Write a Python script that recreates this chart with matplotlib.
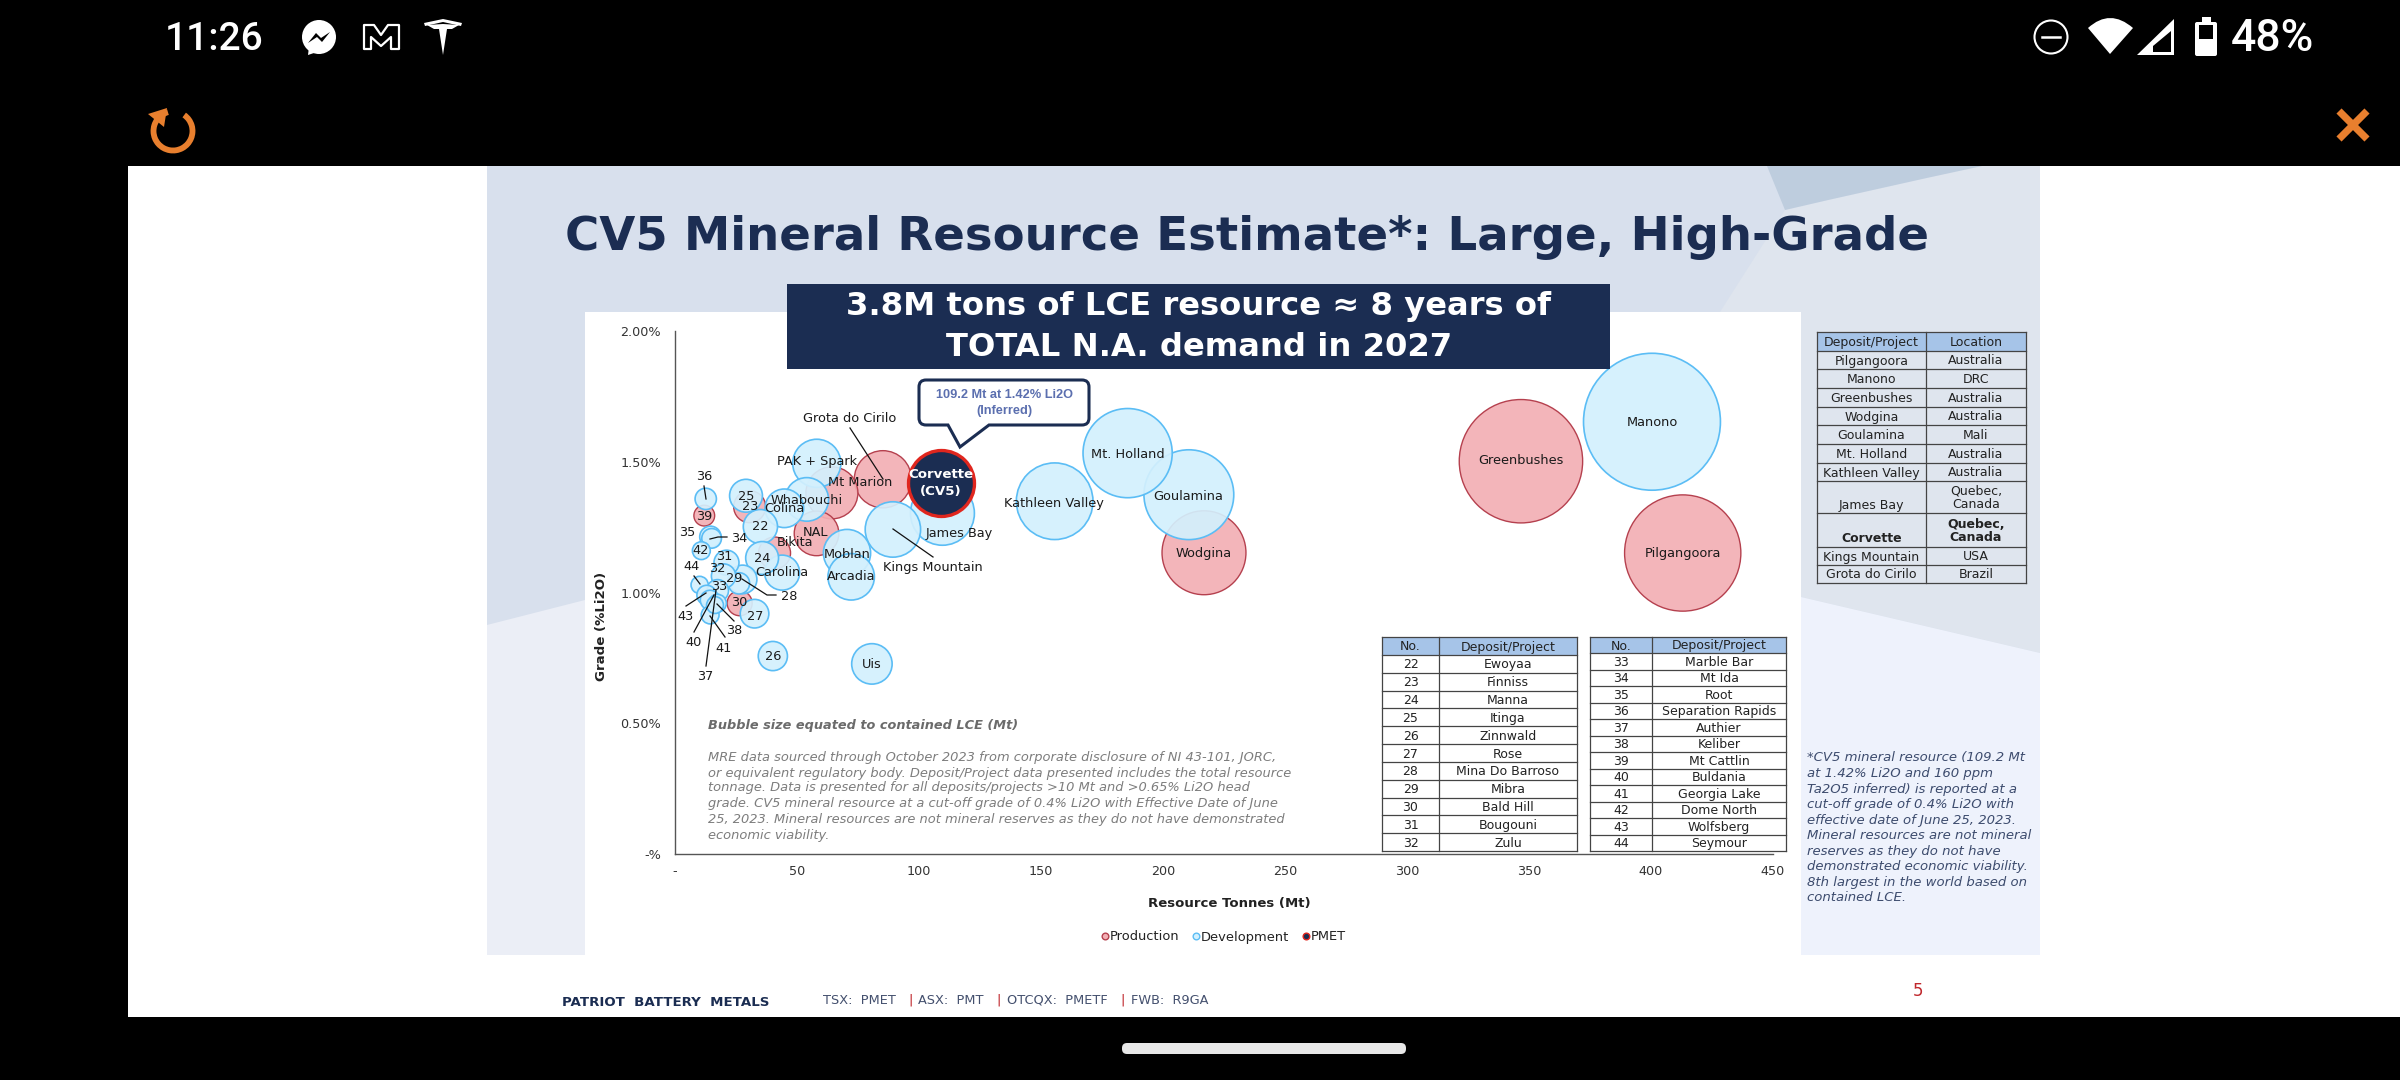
import matplotlib
matplotlib.use("Agg")
import matplotlib.pyplot as plt
from matplotlib.patches import Rectangle, Polygon, Circle, FancyBboxPatch, PathPatch, Arc
from matplotlib.path import Path
from matplotlib.lines import Line2D

# ---------- data ----------
prod_x = [413.0, 346.7, 216.8, 85.2, 64.3, 58.0, 40.8, 30.6, 26.5, 12.0]
prod_y = [1.151, 1.502, 1.152, 1.433, 1.381, 1.226, 1.151, 1.328, 0.959, 1.294]
prod_lce = [11.9, 13.4, 6.2, 2.88, 2.38, 1.75, 0.90, 0.90, 0.55, 0.38]

dev_x = [400.4, 210.6, 185.5, 155.6, 109.6, 89.3, 58.1, 54.0, 70.5, 72.2, 44.8, 80.7,
         43.9, 35.0, 29.1, 35.7, 40.1, 32.6, 27.7, 26.2, 21.1, 19.9, 17.4, 14.5, 15.0,
         12.6, 10.8, 10.1, 13.0, 14.4, 17.4, 14.4, 16.4]
dev_y = [1.653, 1.374, 1.533, 1.349, 1.303, 1.241, 1.494, 1.356, 1.151, 1.060, 1.322, 0.727,
         1.076, 1.252, 1.370, 1.132, 0.757, 0.919, 1.050, 1.035, 1.114, 1.063, 1.007, 1.213, 1.207,
         1.358, 1.160, 1.029, 0.990, 0.971, 0.959, 0.914, 0.952]
dev_lce = [16.5, 7.1, 7.0, 5.17, 3.6, 2.7, 2.04, 1.67, 1.96, 1.90, 1.31, 1.44,
           1.08, 1.03, 0.95, 0.95, 0.75, 0.72, 0.72, 0.40, 0.55, 0.52, 0.43, 0.40, 0.34,
           0.40, 0.28, 0.26, 0.34, 0.34, 0.28, 0.28, 0.25]

pmet_x = [109.2]
pmet_y = [1.42]
pmet_lce = [3.83]

y_ticks = [0, 0.5, 1.0, 1.5, 2.0]
y_tick_labels = ["-%", "0.50%", "1.00%", "1.50%", "2.00%"]
x_ticks = [0, 50, 100, 150, 200, 250, 300, 350, 400, 450]
x_tick_labels = ["-", "50", "100", "150", "200", "250", "300", "350", "400", "450"]

bubble_labels = [("Grota do Cirilo", 850, 419), ("PAK + Spark", 817, 461), ("Mt Marion", 860, 482),
                 ("Whabouchi", 807, 500), ("Colina", 784, 509), ("James Bay", 959, 533),
                 ("NAL", 816, 532), ("Bikita", 795, 543), ("Moblan", 847, 555),
                 ("Kings Mountain", 933, 568), ("Carolina", 782, 573), ("Arcadia", 851, 577),
                 ("Uis", 872, 665), ("Kathleen Valley", 1054, 503), ("Mt. Holland", 1128, 454),
                 ("Goulamina", 1188, 496), ("Wodgina", 1204, 554), ("Greenbushes", 1521, 461),
                 ("Manono", 1652, 422), ("Pilgangoora", 1683, 554),
                 ("36", 704, 477), ("39", 704, 516), ("25", 746, 497), ("23", 750, 507),
                 ("22", 760, 527), ("35", 687, 532), ("34", 739, 538), ("42", 701, 551),
                 ("31", 724, 556), ("24", 762, 559), ("44", 692, 566), ("32", 717, 569),
                 ("29", 734, 579), ("33", 719, 587), ("28", 789, 596), ("30", 739, 603),
                 ("43", 686, 617), ("27", 755, 617), ("38", 734, 631), ("40", 694, 642),
                 ("41", 724, 649), ("26", 773, 657), ("37", 705, 677)]

leaders = [[(850, 428), (883, 479)], [(893, 529), (933, 557)], [(704, 486), (706, 499)],
           [(710, 539), (718, 537), (727, 537)], [(694, 576), (700, 584)],
           [(742, 579), (767, 595), (776, 595)], [(686, 606), (706, 593)], [(694, 632), (714, 595)],
           [(706, 666), (716, 590)], [(725, 637), (710, 616)], [(734, 621), (717, 604)]]

table_a_no = ["22", "23", "24", "25", "26", "27", "28", "29", "30", "31", "32"]
table_a_name = ["Ewoyaa", "Finniss", "Manna", "Itinga", "Zinnwald", "Rose", "Mina Do Barroso",
                "Mibra", "Bald Hill", "Bougouni", "Zulu"]
table_b_no = ["33", "34", "35", "36", "37", "38", "39", "40", "41", "42", "43", "44"]
table_b_name = ["Marble Bar", "Mt Ida", "Root", "Separation Rapids", "Authier", "Keliber", "Mt Cattlin",
                "Buldania", "Georgia Lake", "Dome North", "Wolfsberg", "Seymour"]
table_c_name = ["Pilgangoora", "Manono", "Greenbushes", "Wodgina", "Goulamina", "Mt. Holland",
                "Kathleen Valley", "James Bay", "Corvette", "Kings Mountain", "Grota do Cirilo"]
table_c_loc = ["Australia", "DRC", "Australia", "Australia", "Mali", "Australia", "Australia",
               "Quebec,\nCanada", "Quebec,\nCanada", "USA", "Brazil"]

note_lines = ["MRE data sourced through October 2023 from corporate disclosure of NI 43-101, JORC,",
              "or equivalent regulatory body. Deposit/Project data presented includes the total resource",
              "tonnage. Data is presented for all deposits/projects >10 Mt and >0.65% Li2O head",
              "grade. CV5 mineral resource at a cut-off grade of 0.4% Li2O with Effective Date of June",
              "25, 2023. Mineral resources are not mineral reserves as they do not have demonstrated",
              "economic viability."]
foot_lines = ["*CV5 mineral resource (109.2 Mt", "at 1.42% Li2O and 160 ppm", "Ta2O5 inferred) is reported at a",
              "cut-off grade of 0.4% Li2O with", "effective date of June 25, 2023.", "Mineral resources are not mineral",
              "reserves as they do not have", "demonstrated economic viability.", "8th largest in the world based on",
              "contained LCE."]

# ---------- styles ----------
NAVY = "#1B2D52"
ORANGE = "#E87F2E"
PROD_F, PROD_E = (0.953, 0.686, 0.706, 0.92), "#B5404E"
DEV_F, DEV_E = (0.827, 0.941, 0.992, 0.92), "#5BBDF5"
S_PER_MT = 589.0
TXT = "#222222"

W, H = 2400, 1080
fig = plt.figure(figsize=(24, 10.8), dpi=100, facecolor="black")


def overlay(z):
    a = fig.add_axes([0, 0, 1, 1], zorder=z)
    a.set_xlim(0, W)
    a.set_ylim(H, 0)
    a.axis("off")
    a.patch.set_alpha(0)
    return a


bg = overlay(0)
fg = overlay(2)

# ---------- slide background ----------
bg.add_patch(Rectangle((128, 166), W - 128, 851, fc="white", ec="none"))
bg.add_patch(Rectangle((487, 166), 1553, 789, fc="#D8E0ED", ec="none"))
bg.add_patch(PathPatch(Path([(1982, 166), (1870, 190), (1785, 210), (1720, 312), (1801, 312), (1801, 597),
                             (2040, 653), (2040, 166), (1982, 166)],
                            [Path.MOVETO, Path.CURVE3, Path.CURVE3, Path.LINETO, Path.LINETO, Path.LINETO,
                             Path.LINETO, Path.LINETO, Path.CLOSEPOLY]), fc="#DFE5EE", ec="none"))
bg.add_patch(PathPatch(Path([(1767, 166), (1982, 166), (1870, 190), (1785, 210), (1767, 166)],
                            [Path.MOVETO, Path.LINETO, Path.CURVE3, Path.CURVE3, Path.CLOSEPOLY]),
                       fc="#BECDDE", ec="none"))
bg.add_patch(Polygon([(1801, 597), (2040, 653), (2040, 955), (1801, 955)], fc="#EEF2FC", ec="none"))
bg.add_patch(Polygon([(487, 625), (585, 600), (585, 955), (487, 955)], fc="#EBEEF6", ec="none"))
bg.add_patch(Rectangle((585, 312), 1216, 644, fc="white", ec="none"))

# ---------- chart ----------
ax = fig.add_axes([675 / W, (H - 854) / H, 1098 / W, 523 / H], zorder=1)
ax.patch.set_alpha(0)
ax.set_xlim(0, 450)
ax.set_ylim(0, 2)
for s in ("top", "right"):
    ax.spines[s].set_visible(False)
for s in ("left", "bottom"):
    ax.spines[s].set_color("#555555")
    ax.spines[s].set_linewidth(1.0)
ax.set_yticks(y_ticks, y_tick_labels)
ax.set_xticks(x_ticks, x_tick_labels)
ax.tick_params(axis="both", length=0, labelsize=9.2, labelcolor="#333333")
ax.tick_params(axis="y", pad=10)
ax.tick_params(axis="x", pad=8)
ax.set_xlabel("Resource Tonnes (Mt)", fontsize=9.5, fontweight="bold", color="#222222")
ax.set_ylabel("Grade (%Li2O)", fontsize=9.6, fontweight="bold", color="#222222")
ax.xaxis.set_label_coords((1229 - 675) / 1098, (854 - 897) / 523)
ax.yaxis.set_label_coords((608 - 675) / 1098, (854 - 626) / 523)

ax.scatter(prod_x, prod_y, s=[v * S_PER_MT for v in prod_lce], facecolor=PROD_F, edgecolor=PROD_E,
           linewidth=1.0, clip_on=False, zorder=3)
ax.scatter(dev_x, dev_y, s=[v * S_PER_MT for v in dev_lce], facecolor=DEV_F, edgecolor=DEV_E,
           linewidth=1.2, clip_on=False, zorder=4)
ax.scatter(pmet_x, pmet_y, s=[v * S_PER_MT for v in pmet_lce], facecolor=NAVY, edgecolor="#E0261E",
           linewidth=2.4, clip_on=False, zorder=5)

handles = [Line2D([], [], ls="", marker="o", ms=4.8, mfc="#F3AFB4", mec=PROD_E, mew=1, label="Production"),
           Line2D([], [], ls="", marker="o", ms=4.8, mfc="#D3F0FD", mec=DEV_E, mew=1, label="Development"),
           Line2D([], [], ls="", marker="o", ms=4.8, mfc=NAVY, mec="#E0261E", mew=1, label="PMET")]
ax.legend(handles=handles, ncol=3, frameon=False, loc="center", bbox_to_anchor=(1222 / W, (H - 937) / H),
          bbox_transform=fig.transFigure, fontsize=9.4, handletextpad=-0.1, columnspacing=0.75, labelcolor="#222222",
          handlelength=1.0)

# ---------- header ----------
fg.text(1247, 237, "CV5 Mineral Resource Estimate*: Large, High-Grade", ha="center", va="center",
        fontsize=33.6, fontweight="bold", color=NAVY)
fg.add_patch(Rectangle((787, 284), 823, 85, fc=NAVY, ec="none"))
fg.text(1199, 307, "3.8M tons of LCE resource \u2248 8 years of", ha="center", va="center", fontsize=23.2,
        fontweight="bold", color="white")
fg.text(1199, 348, "TOTAL N.A. demand in 2027", ha="center", va="center", fontsize=23.2,
        fontweight="bold", color="white")

# ---------- labels on the chart ----------
for t, x, y in bubble_labels:
    fg.text(x, y, t, ha="center", va="center", fontsize=9.3, color="#1A1A1A")
for pts in leaders:
    fg.plot([p[0] for p in pts], [p[1] for p in pts], color="#111111", lw=0.9)
fg.text(941, 475, "Corvette", ha="center", va="center", fontsize=9.6, fontweight="bold", color="white")
fg.text(941, 491, "(CV5)", ha="center", va="center", fontsize=9.6, fontweight="bold", color="white")

fg.add_patch(PathPatch(Path([(926, 380), (1082, 380), (1089, 380), (1089, 387), (1089, 418), (1089, 425), (1082, 425),
                             (989, 425), (960, 447), (948, 425), (926, 425), (919, 425), (919, 418), (919, 387),
                             (919, 380), (926, 380), (926, 380)],
                            [Path.MOVETO, Path.LINETO, Path.CURVE3, Path.CURVE3, Path.LINETO, Path.CURVE3, Path.CURVE3,
                             Path.LINETO, Path.LINETO, Path.LINETO, Path.LINETO, Path.CURVE3, Path.CURVE3, Path.LINETO,
                             Path.CURVE3, Path.CURVE3, Path.CLOSEPOLY]),
                       fc="white", ec=NAVY, lw=2.2))
fg.text(1004, 395, "109.2 Mt at 1.42% Li2O", ha="center", va="center", fontsize=9.2, fontweight="bold",
        family="Liberation Sans", color="#5B6FAF")
fg.text(1004, 411, "(Inferred)", ha="center", va="center", fontsize=9.2, fontweight="bold",
        family="Liberation Sans", color="#5B6FAF")

fg.text(708, 726, "Bubble size equated to contained LCE (Mt)", ha="left", va="center", fontsize=9.3,
        fontweight="bold", style="italic", color="#6B6B6B")
for i, line in enumerate(note_lines):
    fg.text(708, [757, 773, 788, 804, 819, 835][i], line, ha="left", va="center", fontsize=9.4,
            style="italic", color="#7D7D7D")


# ---------- tables ----------
def draw_table(xs, ys, columns, header, fill=None, bold_row=None, bottom_rows=()):
    fg.add_patch(Rectangle((xs[0], ys[0]), xs[-1] - xs[0], ys[1] - ys[0], fc="#A6C4E8", ec="none"))
    if fill:
        fg.add_patch(Rectangle((xs[0], ys[1]), xs[-1] - xs[0], ys[-1] - ys[1], fc=fill, ec="none"))
    for y in ys:
        fg.plot([xs[0], xs[-1]], [y, y], color="#444444", lw=0.9)
    for x in xs:
        fg.plot([x, x], [ys[0], ys[-1]], color="#444444", lw=0.9)
    for c in range(len(columns)):
        cx = (xs[c] + xs[c + 1]) / 2
        fg.text(cx, (ys[0] + ys[1]) / 2 + 1, header[c], ha="center", va="center", fontsize=9.0, color=TXT)
        for r, val in enumerate(columns[c]):
            top, bot = ys[r + 1], ys[r + 2]
            weight = "bold" if r == bold_row else "normal"
            yy = (top + bot) / 2
            if r in bottom_rows and "\n" not in val:
                yy = bot - 9
            fg.text(cx, yy + 1, val, ha="center", va="center", fontsize=9.0, color=TXT, fontweight=weight,
                    linespacing=1.05)


draw_table([1382, 1439, 1577], [637, 655] + [655 + (851 - 655) * i / 11 for i in range(1, 12)],
           [table_a_no, table_a_name], ["No.", "Deposit/Project"], fill="white")
draw_table([1590, 1652, 1786], [637, 653] + [653 + (851 - 653) * i / 12 for i in range(1, 13)],
           [table_b_no, table_b_name], ["No.", "Deposit/Project"], fill="white")
draw_table([1817, 1926, 2026], [332, 351, 369, 388, 407, 425, 444, 463, 481, 513, 547, 565, 583],
           [table_c_name, table_c_loc], ["Deposit/Project", "Location"], bold_row=8, bottom_rows=(7, 8))

for i, line in enumerate(foot_lines):
    fg.text(1807, 758 + 15.55 * i, line, ha="left", va="center", fontsize=9.5, style="italic", color="#3D4C6E")

# ---------- footer ----------
fg.text(562, 1002, "PATRIOT  BATTERY  METALS", ha="left", va="center", fontsize=9.6, fontweight="bold", color=NAVY)
for x, t, c in [(823, "TSX:  PMET", "#44506E"), (908, "|", "#C0282D"), (918, "ASX:  PMT", "#44506E"),
                (996, "|", "#C0282D"), (1007, "OTCQX:  PMETF", "#44506E"), (1120, "|", "#C0282D"),
                (1131, "FWB:  R9GA", "#44506E")]:
    fg.text(x, 1000, t, ha="left", va="center", fontsize=9.3, color=c)
fg.text(1918, 991, "5", ha="center", va="center", fontsize=12, color="#C0282D")

# ---------- phone status bar ----------
fg.text(214, 39, "11:26", ha="center", va="center", fontsize=28, color="white", family="Roboto", fontweight="medium")
fg.text(2272, 39, "48%", ha="center", va="center", fontsize=32, color="white", family="Roboto", fontweight="medium")
fg.add_patch(Circle((319, 37), 17, fc="white", ec="none"))
fg.add_patch(Polygon([(309, 47), (308, 55), (317, 52)], fc="white", ec="none"))
fg.add_patch(Polygon([(308, 43), (316, 33), (321, 38), (330, 32), (322, 42), (317, 37)], fc="black", ec="none"))
fg.add_patch(Polygon([(364, 25), (374, 25), (381, 35), (388, 25), (399, 25), (399, 49), (391, 49), (391, 37),
                      (381, 46), (371, 37), (371, 49), (364, 49)], fc="black", ec="white", lw=1.6, joinstyle="round"))
fg.add_patch(Polygon([(424, 23), (443, 19), (462, 23), (461, 26), (443, 22), (425, 26)], fc="white", ec="none"))
fg.add_patch(Polygon([(427, 25), (443, 24), (459, 25), (452, 29), (447, 29), (443, 55), (439, 29), (434, 29)],
                     fc="white", ec="none"))
fg.add_patch(Circle((2051, 37), 16.5, fc="black", ec="white", lw=1.5))
fg.plot([2042, 2060], [37, 37], color="white", lw=1.8)
fg.add_patch(PathPatch(Path([(2110, 54), (2088, 28), (2110, 8), (2133, 28), (2110, 54)],
                            [Path.MOVETO, Path.LINETO, Path.CURVE3, Path.CURVE3, Path.CLOSEPOLY]), fc="white", ec="none"))
fg.add_patch(Polygon([(2137, 55), (2174, 55), (2174, 19)], fc="white", ec="none"))
fg.add_patch(Polygon([(2153, 52), (2171, 52), (2171, 31), (2153, 46)], fc="black", ec="none"))
fg.add_patch(FancyBboxPatch((2195, 22), 22, 34, boxstyle="round,pad=0,rounding_size=2", fc="white", ec="none"))
fg.add_patch(Rectangle((2202, 17), 9, 5, fc="white", ec="none"))
fg.add_patch(Rectangle((2199, 25), 14, 14, fc="black", ec="none"))

# refresh and close icons
fg.add_patch(Arc((173, 131), 39, 39, theta1=-55 + 0, theta2=-105 + 360, color=ORANGE, lw=4.2))
fg.add_patch(Polygon([(148, 114), (167, 108), (164, 127)], fc=ORANGE, ec="none"))
fg.plot([2339, 2367], [111, 139], color=ORANGE, lw=5.2, solid_capstyle="butt")
fg.plot([2339, 2367], [139, 111], color=ORANGE, lw=5.2, solid_capstyle="butt")

# home indicator
fg.add_patch(FancyBboxPatch((1122, 1043), 284, 11, boxstyle="round,pad=0,rounding_size=5", fc="#E8E8E8", ec="none"))

fig.savefig("out.png", dpi=100, facecolor="black")
